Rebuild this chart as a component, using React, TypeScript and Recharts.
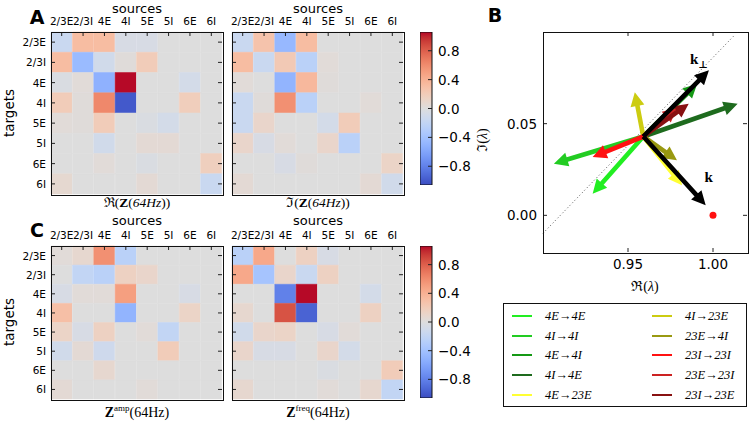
import React from "react";
import { BarChart, Bar, Cell, XAxis, YAxis, ComposedChart, Scatter, ReferenceLine } from "recharts";

const SOURCES = ["2/3E", "2/3I", "4E", "4I", "5E", "5I", "6E", "6I"];
const TARGETS = ["2/3E", "2/3I", "4E", "4I", "5E", "5I", "6E", "6I"];

// rows = targets, cols = sources
const Z_RE = [
  [-0.15, 0.32, 0.32, -0.05, -0.05, 0, 0, 0],
  [0.32, -0.45, -0.1, 0.02, 0.2, 0, 0, 0],
  [-0.03, 0.03, -0.52, 1.05, 0, 0, -0.08, 0],
  [0.2, 0.02, 0.62, -1.0, 0, 0, 0.18, 0],
  [0.03, 0.02, 0.2, 0, -0.03, -0.08, 0, 0],
  [0, 0, -0.1, 0, 0.05, 0.05, 0, 0],
  [0, 0, 0.03, 0, -0.03, 0, 0, 0.17],
  [0.07, 0, 0, 0, 0.05, 0, 0, -0.15],
];
const Z_IM = [
  [-0.15, 0.27, -0.47, 0.32, 0, 0, 0, 0],
  [0.32, -0.15, 0.22, -0.25, 0.03, 0, 0, 0],
  [0.03, 0, -0.5, 0.35, 0.02, 0, 0, 0],
  [-0.15, 0.02, 0.58, -0.25, 0, 0, 0.03, 0],
  [-0.15, 0.1, 0, 0, -0.08, 0.2, 0, 0],
  [0.1, -0.05, 0.03, 0, 0.1, -0.25, 0, 0],
  [0, 0, -0.05, 0.02, 0, 0, 0, 0.12],
  [0.05, 0, 0, 0, 0, 0, 0.05, -0.1],
];
const Z_AMP = [
  [0.03, 0.08, 0.58, -0.25, 0, 0, 0, 0],
  [0, -0.2, -0.25, 0.15, 0.1, 0, 0, 0],
  [-0.05, 0.03, 0.03, 0.5, 0, 0, -0.05, 0],
  [0.3, 0, 0, -0.5, 0, 0, 0.12, 0],
  [0.12, -0.05, 0.15, 0, 0.03, -0.2, 0, 0],
  [-0.1, 0.05, -0.12, 0, 0, 0.2, 0, 0],
  [0, 0, 0.08, 0, 0, 0, 0, 0],
  [0.05, 0, 0, 0, 0.03, 0, 0, 0],
];
const Z_FREQ = [
  [-0.25, 0.45, 0, 0.15, -0.05, 0, 0, 0],
  [0.45, -0.38, 0.1, -0.15, 0.15, 0, 0, 0],
  [0, 0, -0.8, 1.05, 0, 0, -0.08, 0],
  [0.08, 0, 0.85, -0.95, 0, 0, 0.15, 0],
  [-0.1, 0.1, 0.12, 0, -0.05, 0.03, 0, 0],
  [0.1, -0.05, -0.05, 0, 0.1, -0.08, 0, 0],
  [0, 0, 0, 0, -0.03, 0, 0, 0.2],
  [0.08, 0, 0, 0, 0.03, 0, 0.08, -0.2],
];

const VMAX = 1.06;
const CBAR_TICKS = [-0.8, -0.4, 0, 0.4, 0.8];

// panel B: eigenvalue displacement arrows
const EIG_ORIGIN = { x: 0.959, y: 0.043 };
const ARROW_NAMES = ["4E→4E", "4I→4I", "4E→4I", "4I→4E", "4E→23E", "4I→23E", "23E→4I", "23I→23I", "23E→23I", "23I→23E"];
const ARROW_TIP_X = [0.9292, 0.9064, 0.9907, 1.0145, 0.9818, 0.954, 0.9788, 0.9292, 0.9788, 0.9857];
const ARROW_TIP_Y = [0.0118, 0.0282, 0.0718, 0.0609, 0.0164, 0.0672, 0.03, 0.0318, 0.0585, 0.0609];
const ARROW_COLORS = ["#22ee22", "#22cc22", "#159915", "#1e6b1e", "#ffff33", "#cccc11", "#999911", "#ff1111", "#cc2222", "#881111"];
const K_TIP = { x: 0.9957, y: 0.0055 };
const KPERP_TIP = { x: 0.9976, y: 0.0791 };
const UNIT_EIG = [{ x: 1.0, y: 0.0 }];
const DIAG = [{ x: 0.9, y: -0.0098 }, { x: 1.0125, y: 0.0981 }];
const B_XTICKS = [0.95, 1.0];
const B_YTICKS = [0.0, 0.05];

const CW = [
  [59, 76, 192], [68, 90, 204], [77, 104, 215], [87, 117, 225], [98, 130, 234], [108, 142, 241], [119, 154, 247],
  [130, 165, 251], [141, 176, 254], [152, 185, 255], [163, 194, 255], [174, 201, 253], [184, 208, 249], [194, 213, 244],
  [204, 217, 238], [213, 219, 230], [221, 221, 221], [229, 216, 209], [236, 211, 197], [241, 204, 185], [245, 196, 173],
  [247, 187, 160], [247, 177, 148], [247, 166, 135], [244, 154, 123], [241, 141, 111], [236, 127, 99], [229, 112, 88],
  [222, 96, 77], [213, 80, 66], [203, 62, 56], [192, 40, 47], [180, 4, 38],
];

function coolwarm(v: number) {
  const t = Math.max(0, Math.min(1, (v + VMAX) / (2 * VMAX)));
  const p = t * 32;
  const i = Math.min(31, Math.floor(p));
  const f = p - i;
  const c = CW[i].map((a, k) => Math.round(a + (CW[i + 1][k] - a) * f));
  return `rgb(${c[0]},${c[1]},${c[2]})`;
}

const SANS = "'DejaVu Sans', sans-serif";
const SERIF = "'Liberation Serif', 'DejaVu Serif', serif";
const TICK_FS = 10.5;

function Frame({ left, top, w, h }: any) {
  return (
    <div style={{ position: "absolute", left: left - 0.5, top: top - 0.5, width: w, height: h, border: "1px solid #111", pointerEvents: "none" }} />
  );
}

function Text({ x, y, children, size = 13, family = SANS, rotate = 0, weight = "normal" }: any) {
  return (
    <div
      style={{
        position: "absolute", left: x, top: y, transform: `translate(-50%,-50%) rotate(${rotate}deg)`,
        fontSize: size, fontFamily: family, fontWeight: weight, whiteSpace: "nowrap", lineHeight: 1, color: "#000",
      }}
    >
      {children}
    </div>
  );
}

const YW = 50;
const HX = 30;

function Heatmap({ values, left, top, plotW, plotH, rowLabels }: any) {
  const data = SOURCES.map((s) => {
    const row: any = { src: s };
    TARGETS.forEach((_, r) => (row["t" + r] = 1));
    return row;
  });
  const ColTick = (p: any) => (
    <g>
      <text x={p.x} y={p.y - 3.5} textAnchor="middle" fontSize={TICK_FS} fontFamily={SANS} fill="#000">{p.payload.value}</text>
      <line x1={p.x} y1={p.y + 4} x2={p.x} y2={p.y + 8} stroke="#222" strokeWidth={1} />
    </g>
  );
  const RowTick = (p: any) => (
    <g>
      {rowLabels ? (
        <text x={p.x} y={p.y + 4} textAnchor="end" fontSize={TICK_FS} fontFamily={SANS} fill="#000">{TARGETS[Math.floor(p.payload.value)]}</text>
      ) : null}
      <line x1={p.x + 5} y1={p.y} x2={p.x + 9} y2={p.y} stroke="#222" strokeWidth={1} />
      <line x1={p.x + 5 + plotW - 4} y1={p.y} x2={p.x + 5 + plotW} y2={p.y} stroke="#222" strokeWidth={1} />
    </g>
  );
  return (
    <>
      <div style={{ position: "absolute", left: left - YW, top: top - HX }}>
        <BarChart
          width={YW + plotW + 1}
          height={HX + plotH + 1}
          data={data}
          margin={{ top: 0, right: 1, bottom: 1, left: 0 }}
          barCategoryGap={0}
          barGap={0}
        >
          {TARGETS.map((t, r) => (
            <Bar key={t} dataKey={"t" + r} stackId="z" isAnimationActive={false}>
              {SOURCES.map((s, c) => {
                const col = coolwarm(values[r][c]);
                return <Cell key={s} fill={col} stroke={col} strokeWidth={0.5} />;
              })}
            </Bar>
          ))}
          <XAxis dataKey="src" type="category" orientation="top" height={HX} tickSize={0} tickMargin={4}
            axisLine={false} tickLine={false} interval={0} tick={ColTick} />
          <YAxis type="number" domain={[0, TARGETS.length]} reversed ticks={TARGETS.map((_, i) => i + 0.5)}
            width={YW} tickSize={0} tickMargin={5} axisLine={false} tickLine={false} interval={0} tick={RowTick} />
        </BarChart>
      </div>
      <Frame left={left} top={top} w={plotW} h={plotH} />
    </>
  );
}

function Colorbar({ id, left, top, plotW, plotH }: any) {
  const data = [{ name: "cb", span: [-VMAX, VMAX] }];
  const CbTick = (p: any) => {
    const v = p.payload.value;
    const label = (v < 0 ? "\u2212" : "") + Math.abs(v).toFixed(1);
    return (
      <g>
        <line x1={p.x - 6 - 4} y1={p.y} x2={p.x - 6} y2={p.y} stroke="#222" strokeWidth={1} />
        <text x={p.x} y={p.y + 5} textAnchor="start" fontSize={13.5} fontFamily={SANS} fill="#000">{label}</text>
      </g>
    );
  };
  return (
    <div style={{ position: "absolute", left, top }}>
      <BarChart width={plotW + 45} height={plotH} data={data} margin={{ top: 0, right: 0, bottom: 0, left: 0 }} barCategoryGap={0}>
        <defs>
          <linearGradient id={id} x1="0" y1="0" x2="0" y2="1">
            {CW.map((c, i) => (
              <stop key={i} offset={`${(i / 32) * 100}%`} stopColor={`rgb(${CW[32 - i].join(",")})`} />
            ))}
          </linearGradient>
        </defs>
        <XAxis dataKey="name" hide />
        <Bar dataKey="span" fill={`url(#${id})`} stroke="#111" strokeWidth={1} isAnimationActive={false} />
        <YAxis orientation="right" type="number" domain={[-VMAX, VMAX]} ticks={CBAR_TICKS} width={45}
          tickSize={0} tickMargin={6} axisLine={false} tickLine={false} interval={0} tick={CbTick} />
      </BarChart>
    </div>
  );
}

function arrowShape(color: string, label?: React.ReactNode, lx = 0, ly = 0) {
  return (p: any) => {
    const { x1, y1, x2, y2 } = p;
    const dx = x2 - x1;
    const dy = y2 - y1;
    const L = Math.hypot(dx, dy) || 1;
    const ux = dx / L, uy = dy / L, nx = -uy, ny = ux;
    const hl = Math.min(14, L * 0.6), hw = 7, sw = 2.3;
    const bx = x2 - ux * hl, by = y2 - uy * hl;
    const pts = [
      [x1 + nx * sw, y1 + ny * sw], [bx + nx * sw, by + ny * sw], [bx + nx * hw, by + ny * hw], [x2, y2],
      [bx - nx * hw, by - ny * hw], [bx - nx * sw, by - ny * sw], [x1 - nx * sw, y1 - ny * sw],
    ];
    return (
      <g>
        <polygon points={pts.map((q) => q.join(",")).join(" ")} fill={color} />
        {label ? (
          <text x={x2 + lx} y={y2 + ly} textAnchor="middle" fontSize={15} fontFamily={SERIF} fontWeight="bold" fill="#000">{label}</text>
        ) : null}
      </g>
    );
  };
}

function PanelB() {
  const BW = 45, BH = 30, plotW = 204, plotH = 220;
  const left = 543, top = 32;
  const XTick = (p: any) => (
    <g>
      <text x={p.x} y={p.y + 11} textAnchor="middle" fontSize={13.5} fontFamily={SANS} fill="#000">{p.payload.value.toFixed(2)}</text>
      <line x1={p.x} y1={p.y - 6} x2={p.x} y2={p.y - 10} stroke="#222" />
      <line x1={p.x} y1={p.y - 6 - plotH} x2={p.x} y2={p.y - 2 - plotH} stroke="#222" />
    </g>
  );
  const YTick = (p: any) => (
    <g>
      <text x={p.x} y={p.y + 5} textAnchor="end" fontSize={13.5} fontFamily={SANS} fill="#000">{p.payload.value.toFixed(2)}</text>
      <line x1={p.x + 6} y1={p.y} x2={p.x + 10} y2={p.y} stroke="#222" />
      <line x1={p.x + 6 + plotW - 4} y1={p.y} x2={p.x + 6 + plotW} y2={p.y} stroke="#222" />
    </g>
  );
  return (
    <>
      <div style={{ position: "absolute", left: left - BW, top }}>
        <ComposedChart width={BW + plotW + 1} height={plotH + BH} margin={{ top: 0, right: 1, bottom: 0, left: 0 }}>
          <XAxis type="number" dataKey="x" domain={[0.9, 1.02]} ticks={B_XTICKS} height={BH} tickSize={0} tickMargin={6}
            axisLine={false} tickLine={false} interval={0} tick={XTick} allowDataOverflow />
          <YAxis type="number" dataKey="y" domain={[-0.02, 0.1]} ticks={B_YTICKS} width={BW} tickSize={0} tickMargin={6}
            axisLine={false} tickLine={false} interval={0} tick={YTick} allowDataOverflow />
          <ReferenceLine segment={DIAG} stroke="#555" strokeWidth={1} strokeDasharray="1 2.5" ifOverflow="visible" />
          {ARROW_NAMES.map((n, i) => (
            <ReferenceLine key={n} segment={[EIG_ORIGIN, { x: ARROW_TIP_X[i], y: ARROW_TIP_Y[i] }]}
              ifOverflow="visible" shape={arrowShape(ARROW_COLORS[i])} />
          ))}
          <ReferenceLine segment={[EIG_ORIGIN, K_TIP]} ifOverflow="visible" shape={arrowShape("#000", "k", 3, -23)} />
          <ReferenceLine segment={[EIG_ORIGIN, KPERP_TIP]} ifOverflow="visible"
            shape={arrowShape("#000", <>k<tspan fontSize={10} dy={4}>⊥</tspan></>, -10, -6)} />
          <Scatter data={UNIT_EIG} dataKey="y" fill="#ff0000" isAnimationActive={false}
            shape={(p: any) => <circle cx={p.cx} cy={p.cy} r={3.5} fill="#ff1111" />} />
        </ComposedChart>
      </div>
      <Frame left={left} top={top} w={plotW} h={plotH} />
    </>
  );
}

function LegendBox() {
  const half = Math.ceil(ARROW_NAMES.length / 2);
  return (
    <div style={{ position: "absolute", left: 503, top: 303, width: 242, height: 102, border: "1px solid #111", background: "#fff" }}>
      {ARROW_NAMES.map((n, i) => {
        const col = Math.floor(i / half);
        const row = i % half;
        return (
          <div key={n} style={{ position: "absolute", left: 8 + col * 140, top: Math.round(3 + row * 19.7), height: 18, display: "flex", alignItems: "center" }}>
            <div style={{ width: 20, height: 2, background: ARROW_COLORS[i], marginRight: 13 }} />
            <span style={{ fontFamily: SERIF, fontStyle: "italic", fontSize: 12.5 }}>{n}</span>
          </div>
        );
      })}
    </div>
  );
}

export default function App() {
  const aTop = 32, cTop = 246;
  const hw = 171, ah = 162, ch = 153;
  return (
    <div style={{ position: "absolute", left: 0, top: 0, width: 749, height: 426, background: "#fff", overflow: "hidden" }}>
      <Heatmap values={Z_RE} left={51} top={aTop} plotW={hw} plotH={ah} rowLabels />
      <Heatmap values={Z_IM} left={232} top={aTop} plotW={hw} plotH={ah} />
      <Heatmap values={Z_AMP} left={51} top={cTop} plotW={hw} plotH={ch} rowLabels />
      <Heatmap values={Z_FREQ} left={232} top={cTop} plotW={hw} plotH={ch} />
      <Colorbar id="cbA" left={419.5} top={32} plotW={12} plotH={153} />
      <Colorbar id="cbC" left={419.5} top={246} plotW={12} plotH={152} />

      <Text x={137} y={8} size={13}>sources</Text>
      <Text x={318} y={8} size={13}>sources</Text>
      <Text x={137} y={220} size={13}>sources</Text>
      <Text x={318} y={220} size={13}>sources</Text>
      <Text x={10} y={113} size={13.5} rotate={-90}>targets</Text>
      <Text x={10} y={322} size={13.5} rotate={-90}>targets</Text>

      <Text x={137} y={203} size={13.5} family={SERIF}>ℜ(<b>Z</b>(<i>64Hz</i>))</Text>
      <Text x={318} y={203} size={13.5} family={SERIF}>ℑ(<b>Z</b>(<i>64Hz</i>))</Text>
      <Text x={137} y={412} size={14} family={SERIF}><b>Z</b><sup style={{ fontSize: 9 }}>amp</sup>(64Hz)</Text>
      <Text x={318} y={412} size={14} family={SERIF}><b>Z</b><sup style={{ fontSize: 9 }}>freq</sup>(64Hz)</Text>

      <Text x={37} y={17} size={19} weight="bold">A</Text>
      <Text x={37} y={230} size={19} weight="bold">C</Text>
      <Text x={495} y={15} size={19} weight="bold">B</Text>

      <PanelB />
      <Text x={645} y={287} size={14} family={SERIF}>ℜ(<i>λ</i>)</Text>
      <Text x={483} y={140} size={14} family={SERIF} rotate={-90}>ℑ(<i>λ</i>)</Text>
      <LegendBox />
    </div>
  );
}
